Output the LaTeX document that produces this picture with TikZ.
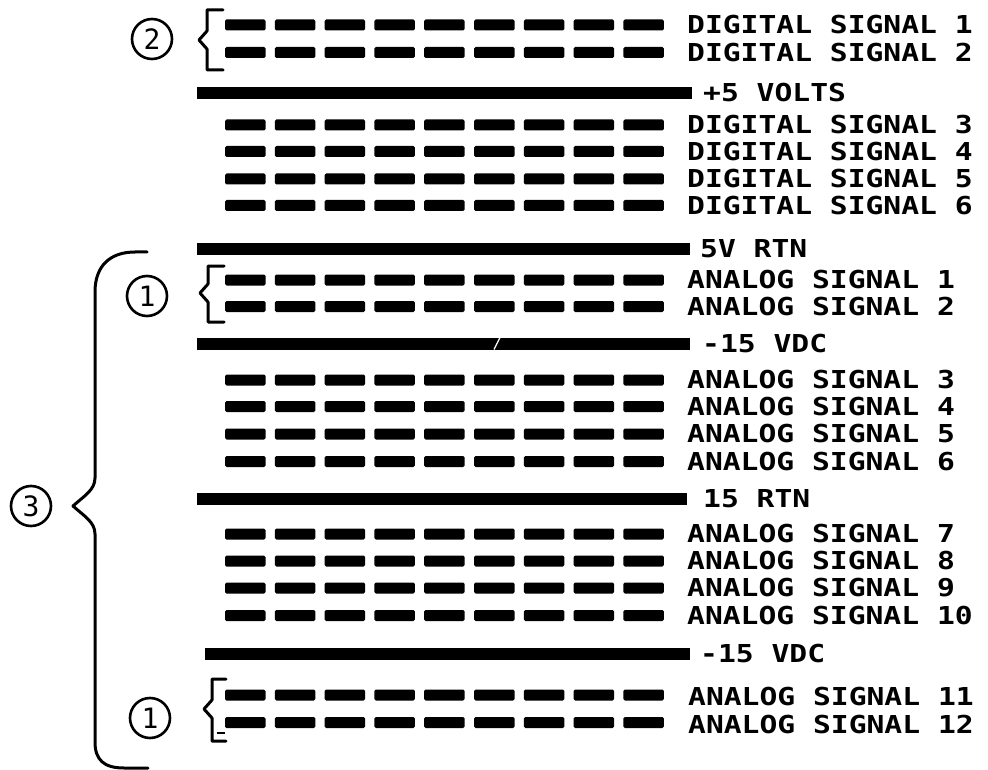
\documentclass[tikz,border=0pt]{standalone}
\usepackage{fontspec}
\newfontfamily\plotfont[FakeStretch=1.2]{DejaVu Sans Mono}
\newfontfamily\calloutfont{DejaVu Sans Mono}
\begin{document}
\begin{tikzpicture}[x=1pt,y=-1pt,
  sigdash/.style={fill=black, rounded corners=1.5pt},
  rail/.style={fill=black},
  lbl/.style={anchor=west, inner sep=0pt, font=\plotfont\bfseries\fontsize{24.7pt}{26pt}\selectfont},
  brc/.style={line width=3pt, line join=round, line cap=round},
  callout/.style={circle, draw, line width=2.6pt, minimum size=40pt, inner sep=0pt,
    font=\calloutfont\fontsize{28pt}{30pt}\selectfont}
]
\useasboundingbox (0,0) rectangle (988,770);
% signal rows of dashes
\foreach \y in {25,52.5,125,151.5,179,205.5,280,306.5,380,406.5,434,461.5,534,561,588,615.5,695,722.5}{
  \foreach \i in {0,...,8}{
    \fill[sigdash] ({225+\i*49.8},{\y-5.5}) rectangle ++(40.5,11);
  }
}
% power rails
\foreach \y/\xa/\xb in {93/197/692, 249/197/690, 343.5/197/690, 499/197/687, 654/205/690}{
  \fill[rail] (\xa,{\y-6}) rectangle (\xb,{\y+6});
}
\draw[white, line width=1.3pt] (494,349.5) -- (500,337.5);
% labels
\node[lbl] (ds1) at (687,25) {DIGITAL SIGNAL 1};
\node[lbl] (ds2) at (687,52.5) {DIGITAL SIGNAL 2};
\node[lbl] (p5) at (703,93) {+5 VOLTS};
\node[lbl] (ds3) at (687,125) {DIGITAL SIGNAL 3};
\node[lbl] (ds4) at (687,151.5) {DIGITAL SIGNAL 4};
\node[lbl] (ds5) at (687,179) {DIGITAL SIGNAL 5};
\node[lbl] (ds6) at (687,205.5) {DIGITAL SIGNAL 6};
\node[lbl] (r5) at (700,249) {5V RTN};
\node[lbl] (as1) at (687,280) {ANALOG SIGNAL 1};
\node[lbl] (as2) at (687,306.5) {ANALOG SIGNAL 2};
\node[lbl] (m15a) at (702,343.5) {-15 VDC};
\node[lbl] (as3) at (687,380) {ANALOG SIGNAL 3};
\node[lbl] (as4) at (687,406.5) {ANALOG SIGNAL 4};
\node[lbl] (as5) at (687,434) {ANALOG SIGNAL 5};
\node[lbl] (as6) at (687,461.5) {ANALOG SIGNAL 6};
\node[lbl] (r15) at (703,499) {15 RTN};
\node[lbl] (as7) at (687,534) {ANALOG SIGNAL 7};
\node[lbl] (as8) at (687,561) {ANALOG SIGNAL 8};
\node[lbl] (as9) at (687,588) {ANALOG SIGNAL 9};
\node[lbl] (as10) at (687,615.5) {ANALOG SIGNAL 10};
\node[lbl] (m15b) at (700,654) {-15 VDC};
\node[lbl] (as11) at (688,697) {ANALOG SIGNAL 11};
\node[lbl] (as12) at (688,724.5) {ANALOG SIGNAL 12};
% small braces
\draw[brc] (223,10) -- (207,10) -- (207,31) -- (199,40) -- (207,49) -- (207,70) -- (223,70);
\draw[brc] (224,266) -- (208,266) -- (208,284) -- (200,293) -- (208,302) -- (208,322) -- (224,322);
\draw[brc] (226,679) -- (212,679) -- (212,700) -- (204,709) -- (212,718) -- (212,741) -- (226,741);
\draw[line width=2.5pt] (217,733) -- (225,733);
% big brace
\draw[brc] (147,252) -- (135,252) .. controls (110,252) and (95,266) .. (95,292)
  -- (95,478) .. controls (95,490) and (84,496) .. (73,506)
  .. controls (84,516) and (95,522) .. (95,534)
  -- (95,742) .. controls (95,760) and (104,768) .. (124,768) -- (148,768);
% callouts
\node[callout] (c2) at (152,39) {2};
\node[callout] (c1a) at (147,296) {1};
\node[callout] (c1b) at (150,718) {1};
\node[callout] (c3) at (31,506) {3};
\end{tikzpicture}
\end{document}
